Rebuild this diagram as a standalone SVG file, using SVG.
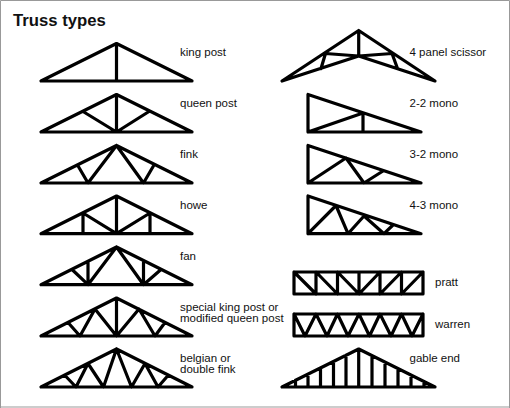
<svg xmlns="http://www.w3.org/2000/svg" width="510" height="408" viewBox="0 0 510 408">
<style>
text{font-family:"Liberation Sans",Arial,sans-serif;font-size:11.5px;fill:#111}
.t{font-size:16.7px;font-weight:bold}
.b{fill:none;stroke:#000;stroke-width:3.2;stroke-linejoin:round;stroke-linecap:round}
</style>
<rect width="510" height="408" fill="#fff"/>
<path d="M.5 408V.5H509.500V408M0 407H510" fill="none" stroke="#999" stroke-width="1"/>
<text class="t" x="13" y="26">Truss types</text>
<g id="king-post"><path class="b" d="M41 81H192L116.500 43.500ZM116.500 43.500V81"/><text x="180" y="56">king post</text></g>
<g id="queen-post"><path class="b" d="M41 132H192L116.500 94.500ZM116.500 94.500V132M83 111.500L116.500 132L149 111.500"/><text x="180" y="107">queen post</text></g>
<g id="fink"><path class="b" d="M41 183H192L116.500 145.500ZM116.500 145.500L88 183L77.500 165M116.500 145.500L143.500 183L154 165"/><text x="180" y="158">fink</text></g>
<g id="howe"><path class="b" d="M41 233.700H192L116.500 196ZM116.500 196V233.700M83 213L116.500 233.700L150 213M83 213V233.700M150 213V233.700"/><text x="180" y="209">howe</text></g>
<g id="fan"><path class="b" d="M41 284.700H192L116.500 247ZM116.500 247L88 284.700L72 269.500M88 284.700V262.500M116.500 247L143.500 284.700L161 269.500M143.500 284.700V262.500"/><text x="180" y="260">fan</text></g>
<g id="special-king-post"><path class="b" d="M41 336H192L116.500 298ZM116.500 298V336M95 309L80 336L68 322.500M116.500 336L95 309M116.500 336L139 309L155 336L165 322.500"/><text x="180" y="311">special king post or</text><text x="180" y="322">modified queen post</text></g>
<g id="belgian"><path class="b" d="M41 387H192L116.500 349ZM116.500 349L103.500 387L88 363.500L76 387L65 375.500M116.500 349L131.500 387L145 363.500L158 387L168 375.500"/><text x="180" y="362">belgian or</text><text x="180" y="373">double fink</text></g>
<g id="scissor"><path class="b" d="M282 81L358.700 30.500L435 81L358.700 56ZM358.700 30.500V56M325.500 53.500L358.700 56L392 53.500M325.500 53.500L321 68.500M392 53.500L397.500 68.500"/><text x="409.500" y="56">4 panel scissor</text></g>
<g id="mono-2-2"><path class="b" d="M308 132H421L308 94.500ZM308 132L363 113V132"/><text x="409.500" y="107">2-2 mono</text></g>
<g id="mono-3-2"><path class="b" d="M308 183H421L308 145.500ZM308 183L346 158L364 183L383 171"/><text x="409.500" y="158">3-2 mono</text></g>
<g id="mono-4-3"><path class="b" d="M308 233.700H421L308 196ZM308 233.700L336 205.500L348 233.700L364 216L384 233.700L393 225"/><text x="409.500" y="209">4-3 mono</text></g>
<g id="pratt"><path class="b" d="M294 272H423V294H294ZM316 272V294M337.500 272V294M359 272V294M380 272V294M401.500 272V294M294 272L316 294M316 272L337.500 294M337.500 272L359 294L380 272M380 294L401.500 272M401.500 294L423 272"/><text x="435" y="286">pratt</text></g>
<g id="warren"><path class="b" d="M294 314H423V336H294ZM294 314L305 336L316 314L327 336L337.500 314L348 336L359 314L369.500 336L380 314L391 336L401.500 314L412 336L423 314"/><text x="435" y="328">warren</text></g>
<g id="gable-end"><path class="b" d="M282 387H435L358.700 349ZM358.700 349V387M295.500 380V387M308 374V387M320.500 368V387M333.500 361.500V387M346 355V387M372 355.500V387M385 362V387M398 368.500V387M411 375V387M424 381.500V387"/><text x="409.500" y="362">gable end</text></g>
</svg>
